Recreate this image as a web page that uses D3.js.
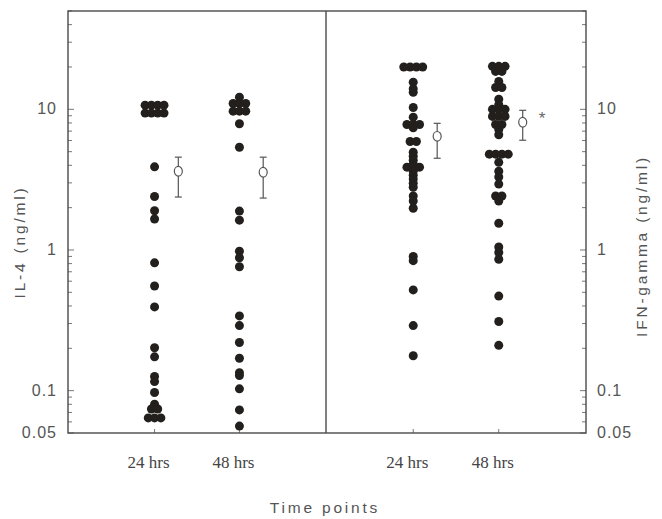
<!DOCTYPE html>
<html lang="en">
<head>
<meta charset="utf-8">
<style>
  body { margin: 0; background: white; }
  svg { background: white; font-family: 'Liberation Sans', Arial, sans-serif; }
  .frame { stroke: #4a4a4a; stroke-width: 1.4; fill: none; }
  .tick { stroke: #777; stroke-width: 1; }
  .dot { fill: #231f1c; }
  .mean circle { fill: white; stroke: #555; stroke-width: 1.2; }
  .mean line { stroke: #555; stroke-width: 1.2; }
  .ylab { fill: #555; font-size: 16px; letter-spacing: 1px; }
  .axtitle { fill: #555; font-size: 15.5px; letter-spacing: 2.8px; }
  .cat { fill: #444; font-family: 'Liberation Serif', 'Times New Roman', serif; font-size: 17px; }
</style>
</head>
<body>
<svg width="662" height="519"></svg>
<script src="https://d3js.org/d3.v7.min.js"></script>
<script>
// categories and tick labels
const categories = ["24 hrs", "48 hrs"];
const yTickValues = [10, 1, 0.1, 0.05];

// IL-4 (ng/ml), individual values
const il4_24 = [10.7, 10.7, 10.7, 10.7, 9.4, 9.4, 9.4, 9.4, 3.9, 2.4, 1.9, 1.66,
  0.81, 0.555, 0.394, 0.202, 0.174, 0.126, 0.116, 0.097, 0.080, 0.074, 0.074,
  0.064, 0.064, 0.064];
const il4_48 = [12.2, 11.0, 11.0, 11.0, 9.7, 9.7, 9.7, 7.9, 5.37, 1.89, 1.63, 0.98,
  0.88, 0.76, 0.34, 0.29, 0.22, 0.17, 0.134, 0.128, 0.103, 0.073, 0.056];

// IFN-gamma (ng/ml), individual values
const ifn_24 = [20, 20, 20, 20, 15.6, 14.0, 13.2, 10.3, 8.8, 7.8, 7.8, 7.8, 7.4,
  5.9, 5.9, 4.95, 4.64, 4.35, 4.07, 3.88, 3.88, 3.88, 3.63, 3.4, 3.19, 2.98, 2.79,
  2.42, 2.23, 1.98, 0.9, 0.84, 0.52, 0.29, 0.177];
const ifn_48 = [20.2, 20.2, 20.2, 18.6, 18.6, 15.8, 14.3, 14.3, 11.8, 10.8, 10.0,
  10.0, 10.0, 8.9, 8.9, 8.9, 7.8, 7.8, 7.2, 6.6, 4.8, 4.8, 4.8, 4.8, 4.2, 3.63, 3.3,
  2.94, 2.42, 2.42, 2.23, 1.55, 1.05, 0.96, 0.86, 0.47, 0.31, 0.21];

// mean with error bar: [mean, low, high]
const il4_means = [[3.63, 2.38, 4.57], [3.57, 2.34, 4.57]];
const ifn_means = [[6.43, 4.49, 7.95], [8.09, 6.03, 9.84]];
const ifn_signif = ["", "*"];

var svg = d3.select("svg");

var plotTop = 11, plotBottom = 433;
var y = d3.scaleLog().domain([0.05, 50]).range([plotBottom, plotTop]);

var panels = [
  { x0: 68, x1: 326, groups: [il4_24, il4_48], means: il4_means, signif: ["", ""], side: "left" },
  { x0: 326, x1: 586, groups: [ifn_24, ifn_48], means: ifn_means, signif: ifn_signif, side: "right" }
];

var step = 6.3, r = 4.5;

// spread equal values sideways, centred on the category
function spread(values) {
  const counts = d3.rollup(values, v => v.length, d => d);
  const seen = new Map();
  return values.map(v => {
    const k = seen.get(v) || 0;
    seen.set(v, k + 1);
    return { value: v, off: (k - (counts.get(v) - 1) / 2) * step };
  });
}

panels.forEach(p => {
  var x = d3.scalePoint().domain(categories).range([p.x0, p.x1]).padding(1.02);
  var g = svg.append("g");

  // bottom category ticks
  g.selectAll(".ctick").data(categories).enter().append("line")
    .attr("class", "tick")
    .attr("x1", d => x(d)).attr("x2", d => x(d))
    .attr("y1", plotBottom).attr("y2", plotBottom - 4);

  g.selectAll(".cat").data(categories).enter().append("text")
    .attr("class", "cat")
    .attr("x", d => x(d) - 6)
    .attr("y", 468)
    .attr("text-anchor", "middle")
    .text(d => d);

  // dots
  p.groups.forEach((vals, i) => {
    g.append("g").selectAll("circle").data(spread(vals)).enter().append("circle")
      .attr("class", "dot")
      .attr("cx", d => x(categories[i]) + d.off)
      .attr("cy", d => y(d.value))
      .attr("r", r);
  });

  // means with error bars
  var off = x.step() * 0.28;
  var m = g.selectAll(".mean").data(p.means).enter().append("g")
    .attr("class", "mean")
    .attr("transform", (d, i) => `translate(${x(categories[i]) + off},0)`);
  m.append("line").attr("y1", d => y(d[1])).attr("y2", d => y(d[2]));
  m.append("line").attr("x1", -3.5).attr("x2", 3.5).attr("y1", d => y(d[1])).attr("y2", d => y(d[1]));
  m.append("line").attr("x1", -3.5).attr("x2", 3.5).attr("y1", d => y(d[2])).attr("y2", d => y(d[2]));
  m.append("ellipse").attr("cy", d => y(d[0])).attr("rx", 4).attr("ry", 4.8)
    .attr("fill", "white").attr("stroke", "#555").attr("stroke-width", 1.2);
  m.append("text")
    .attr("x", 16).attr("y", d => y(d[2]) + 14)
    .attr("fill", "#666").attr("font-size", 17)
    .text((d, i) => p.signif[i]);

  // log axis ticks pointing into the plot
  var axX = p.side === "left" ? p.x0 : p.x1;
  var dir = p.side === "left" ? 1 : -1;
  var minor = y.ticks();
  g.selectAll(".ytick").data(minor).enter().append("line")
    .attr("class", "tick")
    .attr("x1", axX)
    .attr("x2", d => axX + dir * (yTickValues.includes(d) ? 6 : 4))
    .attr("y1", d => y(d)).attr("y2", d => y(d));

  g.selectAll(".ylab").data(yTickValues).enter().append("text")
    .attr("class", "ylab")
    .attr("x", p.side === "left" ? axX - 11 : axX + 11)
    .attr("y", d => y(d) + 5)
    .attr("text-anchor", p.side === "left" ? "end" : "start")
    .text(d => d);
});

// frame
svg.append("rect").attr("class", "frame")
  .attr("x", 68).attr("y", plotTop).attr("width", 586 - 68).attr("height", plotBottom - plotTop);
svg.append("line").attr("class", "frame")
  .attr("x1", 326).attr("x2", 326).attr("y1", plotTop).attr("y2", plotBottom);

// axis titles
svg.append("text").attr("class", "axtitle")
  .attr("transform", "translate(25,242) rotate(-90)")
  .attr("text-anchor", "middle")
  .text("IL-4 (ng/ml)");
svg.append("text").attr("class", "axtitle")
  .attr("transform", "translate(647,246) rotate(-90)")
  .attr("text-anchor", "middle")
  .text("IFN-gamma (ng/ml)");
svg.append("text").attr("class", "axtitle")
  .attr("x", 325).attr("y", 513)
  .attr("text-anchor", "middle")
  .text("Time points");
</script>
</body>
</html>
